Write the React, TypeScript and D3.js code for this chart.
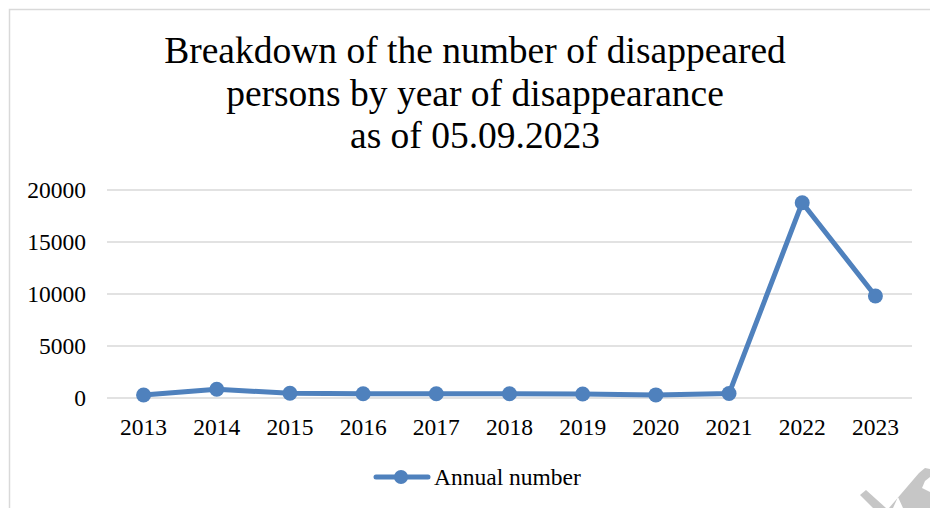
import React from "react";
import * as d3 from "d3";

const years = ["2013", "2014", "2015", "2016", "2017", "2018", "2019", "2020", "2021", "2022", "2023"];
const annualNumber = [290, 840, 450, 410, 410, 410, 390, 300, 430, 18780, 9810];
const yTicks = [0, 5000, 10000, 15000, 20000];
const titleLines = [
  "Breakdown of the number of disappeared",
  "persons by year of disappearance",
  "as of 05.09.2023",
];
const seriesName = "Annual number";

const W = 930;
const H = 508;
const BLUE = "#4f81bd";
const FONT = "'Liberation Serif', 'Times New Roman', serif";

export default function App() {
  const x = d3.scaleBand<string>().domain(years).range([107, 912]);
  const y = d3.scaleLinear().domain([0, 20000]).range([398, 190]);
  const cx = (d: string) => (x(d) as number) + x.bandwidth() / 2;
  const line = d3
    .line<number>()
    .x((_, i) => cx(years[i]))
    .y((v) => y(v));

  return (
    <div style={{ position: "absolute", left: 0, top: 0, width: W, height: H, background: "#fff" }}>
      <svg width={W} height={H} style={{ display: "block" }}>
        <rect x={0} y={0} width={W} height={H} fill="#fff" />
        <rect x={9.5} y={9.5} width={W + 20} height={H + 20} fill="none" stroke="#d9d9d9" strokeWidth={1.5} />
        {titleLines.map((t, i) => (
          <text
            key={i}
            x={475}
            y={63 + i * 42.5}
            textAnchor="middle"
            fontFamily={FONT}
            fontSize={37.5}
            fill="#000"
          >
            {t}
          </text>
        ))}
        {yTicks.map((t) => (
          <g key={t}>
            <line x1={107} x2={912} y1={y(t)} y2={y(t)} stroke="#d9d9d9" strokeWidth={1.5} />
            <text x={86} y={y(t) + 8} textAnchor="end" fontFamily={FONT} fontSize={23.5} fill="#000">
              {t}
            </text>
          </g>
        ))}
        {years.map((yr) => (
          <text key={yr} x={cx(yr)} y={435} textAnchor="middle" fontFamily={FONT} fontSize={23.5} fill="#000">
            {yr}
          </text>
        ))}
        <path d={line(annualNumber) || ""} fill="none" stroke={BLUE} strokeWidth={5} strokeLinejoin="round" strokeLinecap="round" />
        {annualNumber.map((v, i) => (
          <circle key={i} cx={cx(years[i])} cy={y(v)} r={7.5} fill={BLUE} />
        ))}
        <g>
          <line x1={376} x2={428} y1={477} y2={477} stroke={BLUE} strokeWidth={5} strokeLinecap="round" />
          <circle cx={401} cy={477} r={7} fill={BLUE} />
          <text x={434} y={485} fontFamily={FONT} fontSize={23.5} fill="#000">
            {seriesName}
          </text>
        </g>
        <g fill="#c6c6c6">
          <polygon points="860,495 866,490 886,508 873,508" />
          <polygon points="889,508 919,473 925,468 930,469 930,477 925,481 922,488 930,492 930,508 903,508 898,497 893,508" />
        </g>
      </svg>
    </div>
  );
}
